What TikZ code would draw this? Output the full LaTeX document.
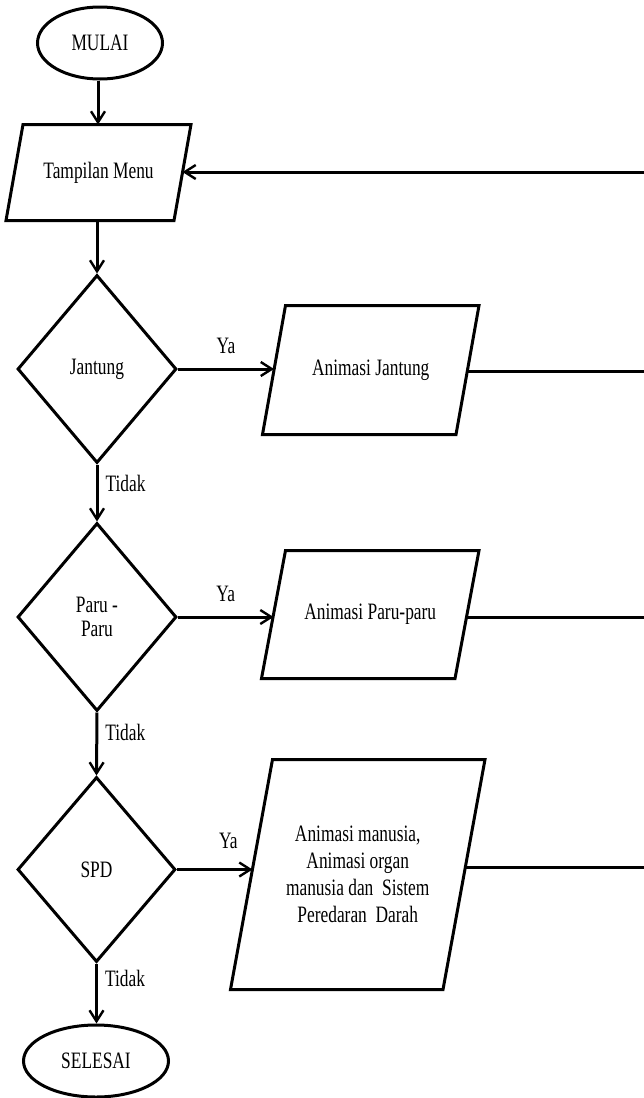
\documentclass[tikz,border=0pt]{standalone}
\usepackage{fontspec}
\setmainfont{Liberation Serif}[FakeStretch=0.74]
\usetikzlibrary{shapes.geometric,arrows.meta}
% slanted input/output frame around a rectangular node:
% #1 = node name, #2 = half of the horizontal slant
\newcommand\ioframe[2]{%
  \draw ([xshift=-#2]#1.south west) -- ([xshift=#2]#1.north west)
     -- ([xshift=#2]#1.north east) -- ([xshift=-#2]#1.south east) -- cycle;}
\begin{document}
\begin{tikzpicture}[
  x=1pt, y=-1pt,
  line width=3pt, line join=miter,
  every node/.style={font=\fontsize{23.5}{27}\selectfont},
  terminal/.style={ellipse, draw, inner sep=0pt},
  iobox/.style={rectangle, inner sep=0pt, align=center},
  decision/.style={diamond, draw, inner sep=0pt, align=center},
  flow/.style={-{Straight Barb[length=11pt,width=14pt,line width=2.4pt]}},
  lbl/.style={inner sep=0pt}
]
% canvas
\fill[white] (0,0) rectangle (644,1098);
\useasboundingbox (0,0) rectangle (644,1098);

% main column and output boxes
\node[terminal, minimum width=125pt, minimum height=72pt] (mulai) at (100,43) {MULAI};
\node[iobox, minimum width=165pt, minimum height=93pt] (menu) at (98.5,172.5) {Tampilan Menu};
\node[decision, minimum width=159pt, minimum height=188pt] (jantung) at (97,369) {Jantung};
\node[iobox, minimum width=190.5pt, minimum height=126pt] (anjantung) at (370.75,370) {Animasi Jantung};
\node[decision, minimum width=159pt, minimum height=188pt,
      font=\fontsize{23.5}{24}\selectfont] (paru) at (97,617) {Paru -\\Paru};
\node[iobox, minimum width=190.5pt, minimum height=125pt] (anparu) at (370.25,614.5) {Animasi Paru-paru};
\node[decision, minimum width=158pt, minimum height=185pt] (spd) at (96.5,869.5) {SPD};
\node[iobox, minimum width=209.5pt, minimum height=227pt] (anspd) at (357.75,874.5)
  {Animasi manusia,\\Animasi organ\\manusia dan~~Sistem\\Peredaran~~Darah};
\node[terminal, minimum width=145pt, minimum height=72pt] (selesai) at (96,1061) {SELESAI};
\coordinate (rt) at (645,172);

\ioframe{menu}{8.5pt}
\ioframe{anjantung}{11.5pt}
\ioframe{anparu}{12pt}
\ioframe{anspd}{21pt}

% vertical flow
\draw[flow] ([xshift=-2pt]mulai.south) -- ([xshift=-2pt]mulai.south |- menu.north);
\draw[flow] (jantung.north |- menu.south) -- (jantung.north);
\draw[flow] (jantung.south) -- node[lbl, pos=0.33, right=7pt] {Tidak} (paru.north);
\draw[flow] (paru.south) -- node[lbl, pos=0.32, right=7pt] {Tidak} (spd.north);
\draw[flow] (spd.south) -- node[lbl, pos=0.25, right=7pt] {Tidak} (spd.south |- selesai.north);

% yes branches
\draw[flow] (jantung.east) -- node[lbl, above=14pt] {Ya} (jantung.east -| anjantung.west);
\draw[flow] (paru.east) -- node[lbl, above=14pt] {Ya} (paru.east -| anparu.west);
\draw[flow] (spd.east) -- node[lbl, pos=0.68, above=19pt] {Ya} ([xshift=1pt]spd.east -| anspd.west);

% return to menu
\draw ([yshift=-1pt]anjantung.east) -- ([yshift=-1pt]anjantung.east -| rt);
\draw ([yshift=-2.5pt]anparu.east) -- ([yshift=-2.5pt]anparu.east -| rt);
\draw[flow] ([yshift=7pt,xshift=1pt]anspd.east) -- ([yshift=7pt]anspd.east -| rt)
  -- (rt) -- (rt -| menu.east);
\end{tikzpicture}
\end{document}
